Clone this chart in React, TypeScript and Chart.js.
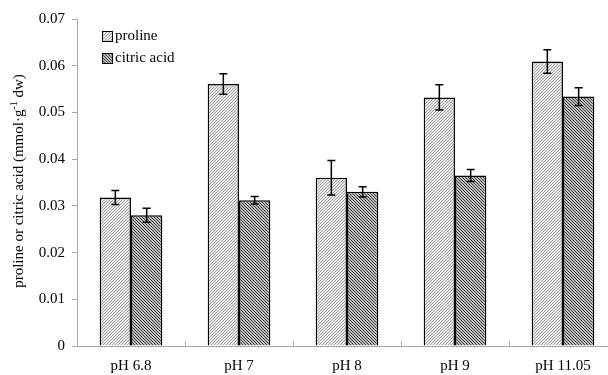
import React, { useEffect, useRef } from 'react';
import { Chart, registerables } from 'chart.js';
Chart.register(...registerables);

const categories = ['pH 6.8', 'pH 7', 'pH 8', 'pH 9', 'pH 11.05'];
const seriesNames = ['proline', 'citric acid'];
const proline = [0.0318, 0.0561, 0.036, 0.0532, 0.0609];
const prolineErr = [0.0015, 0.0022, 0.0037, 0.0027, 0.0025];
const citric = [0.028, 0.0312, 0.033, 0.0365, 0.0534];
const citricErr = [0.0015, 0.0008, 0.0011, 0.0013, 0.0019];
const yMin = 0;
const yMax = 0.07;
const yStep = 0.01;

const FONT = '"Liberation Serif", "Times New Roman", serif';

function makePattern(dir: 'up' | 'down', base: string, stripe: string): CanvasPattern | string {
  const c = document.createElement('canvas');
  c.width = 6;
  c.height = 6;
  const g = c.getContext('2d');
  if (!g) return base;
  for (let x = 0; x < 6; x++) {
    for (let y = 0; y < 6; y++) {
      const k = dir === 'up' ? (x + y) % 3 : (((x - y) % 3) + 3) % 3;
      g.fillStyle = k === 0 ? stripe : base;
      g.fillRect(x, y, 1, 1);
    }
  }
  const p = g.createPattern(c, 'repeat');
  return p || base;
}

export default function App() {
  const ref = useRef<HTMLCanvasElement | null>(null);
  useEffect(() => {
    if (!ref.current) return;
    const pProline = makePattern('up', '#e6e6e6', '#a8a8a8');
    const pCitric = makePattern('down', '#b8b8b8', '#444444');
    const errs = [prolineErr, citricErr];

    const extras = {
      id: 'extras',
      afterDatasetsDraw(chart: any) {
        const ctx = chart.ctx;
        const ys = chart.scales.y;
        ctx.save();
        ctx.strokeStyle = '#000';
        ctx.lineWidth = 1.5;
        chart.data.datasets.forEach((ds: any, di: number) => {
          const meta = chart.getDatasetMeta(di);
          meta.data.forEach((bar: any, i: number) => {
            const v = ds.data[i];
            const e = errs[di][i];
            const x = bar.x;
            const yt = ys.getPixelForValue(v + e);
            const yb = ys.getPixelForValue(v - e);
            ctx.beginPath();
            ctx.moveTo(x, yt);
            ctx.lineTo(x, yb);
            ctx.moveTo(x - 4, yt);
            ctx.lineTo(x + 4, yt);
            ctx.moveTo(x - 4, yb);
            ctx.lineTo(x + 4, yb);
            ctx.stroke();
          });
        });
        ctx.restore();
      },
      afterDraw(chart: any) {
        const ctx = chart.ctx;
        const xs = chart.scales.x;
        const area = chart.chartArea;
        ctx.save();
        ctx.strokeStyle = '#b0b0b0';
        ctx.lineWidth = 1;
        const n = categories.length;
        for (let i = 1; i < n; i++) {
          const xb = (xs.getPixelForValue(i - 1) + xs.getPixelForValue(i)) / 2;
          ctx.beginPath();
          ctx.moveTo(Math.round(xb) + 0.5, area.bottom);
          ctx.lineTo(Math.round(xb) + 0.5, area.bottom - 5);
          ctx.stroke();
        }
        const pats = [pProline, pCitric];
        ctx.font = '15px ' + FONT;
        ctx.textBaseline = 'middle';
        ctx.fillStyle = '#000';
        seriesNames.forEach((name, i) => {
          const bx = 102;
          const by = 31 + i * 22;
          ctx.fillStyle = pats[i] as any;
          ctx.fillRect(bx, by, 10, 10);
          ctx.strokeStyle = '#000';
          ctx.lineWidth = 1;
          ctx.strokeRect(bx + 0.5, by + 0.5, 10, 10);
          ctx.fillStyle = '#000';
          ctx.textAlign = 'left';
          ctx.fillText(name, 115, by + 5.5);
        });
        const main1 = 'proline or citric acid (mmol·g';
        const sup = '-1';
        const main2 = ' dw)';
        ctx.translate(18, 181);
        ctx.rotate(-Math.PI / 2);
        ctx.font = '15px ' + FONT;
        const w1 = ctx.measureText(main1).width;
        const w3 = ctx.measureText(main2).width;
        ctx.font = '10px ' + FONT;
        const w2 = ctx.measureText(sup).width;
        const total = w1 + w2 + w3;
        let x0 = -total / 2;
        ctx.textAlign = 'left';
        ctx.textBaseline = 'alphabetic';
        ctx.font = '15px ' + FONT;
        ctx.fillText(main1, x0, 5);
        x0 += w1;
        ctx.font = '10px ' + FONT;
        ctx.fillText(sup, x0, -1);
        x0 += w2;
        ctx.font = '15px ' + FONT;
        ctx.fillText(main2, x0, 5);
        ctx.restore();
      },
    };

    const chart = new Chart(ref.current, {
      type: 'bar',
      data: {
        labels: categories,
        datasets: [
          {
            label: seriesNames[0],
            data: proline,
            backgroundColor: pProline as any,
            borderColor: '#000',
            borderWidth: 1.5,
            barPercentage: 1,
            categoryPercentage: 0.58,
          },
          {
            label: seriesNames[1],
            data: citric,
            backgroundColor: pCitric as any,
            borderColor: '#000',
            borderWidth: 1.5,
            barPercentage: 1,
            categoryPercentage: 0.58,
          },
        ],
      },
      options: {
        animation: false,
        responsive: false,
        maintainAspectRatio: false,
        layout: { padding: { left: 0, top: 19, right: 3, bottom: 0 } },
        plugins: { legend: { display: false }, tooltip: { enabled: false } },
        scales: {
          x: {
            grid: { display: false, drawTicks: false },
            border: { display: true, color: '#a8a8a8', width: 1 },
            ticks: { color: '#000', font: { family: FONT, size: 15 }, padding: 11, maxRotation: 0 },
            afterFit(scale: any) {
              scale.height = 29;
            },
          },
          y: {
            min: yMin,
            max: yMax,
            grid: { drawOnChartArea: false, drawTicks: true, tickLength: 5, color: '#a8a8a8' },
            border: { display: true, color: '#a8a8a8', width: 1 },
            ticks: {
              stepSize: yStep,
              color: '#000',
              padding: 7,
              font: { family: FONT, size: 15 },
              callback: (v: any) => (Number(v) === 0 ? '0' : Number(v).toFixed(2)),
            },
            afterFit(scale: any) {
              scale.width = 77;
            },
          },
        },
      },
      plugins: [extras],
    });
    return () => chart.destroy();
  }, []);
  return (
    <div style={{ position: 'fixed', left: 0, top: 0, width: 620, height: 375, background: '#fff', overflow: 'hidden' }}>
      <canvas ref={ref} width={620} height={375} style={{ display: 'block' }} />
    </div>
  );
}
